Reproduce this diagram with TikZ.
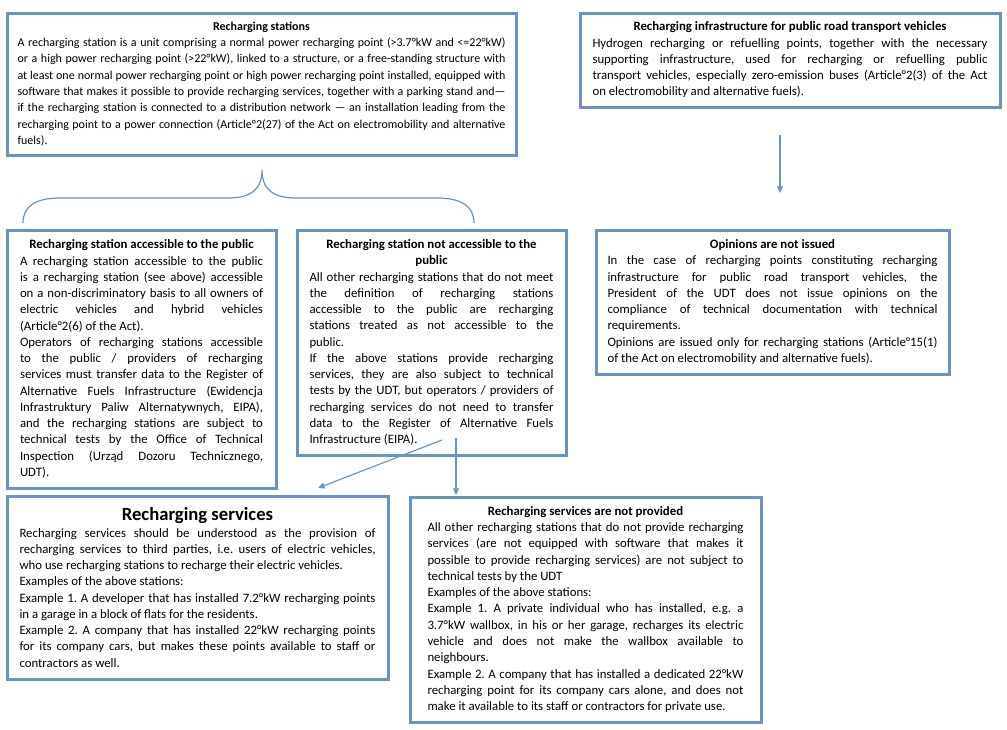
\documentclass[tikz,border=0pt]{standalone}
\usepackage{fontspec}
\setmainfont{Carlito}
\usepackage{tikz}
\usepackage{xcolor}
\usetikzlibrary{arrows.meta, positioning}

\definecolor{panelblue}{RGB}{104,147,194}
\definecolor{linkblue}{RGB}{102,152,204}

\tikzset{
    panel/.style={draw=panelblue, line width=2.25pt, anchor=north west, outer sep=0pt,
        align=justify, font=\fontsize{9.6}{12.2}\selectfont\frenchspacing},
    link/.style={-{Triangle[length=5pt, width=4.5pt]}, linkblue, line width=0.9pt},
    bracepath/.style={panelblue, line width=0.9pt}
}
\newcommand{\paneltitle}[1]{{\centering\bfseries #1\par}}

\begin{document}
\begin{tikzpicture}[x=0.75pt, y=-0.75pt]
    \useasboundingbox (0,0) rectangle (1007,729);

    % Top row
    \node[panel, font=\fontsize{9}{12.2}\selectfont\frenchspacing,
        minimum width=381.75pt, minimum height=106.5pt, text width=366pt] (stations) at (7,13) {%
        \paneltitle{Recharging stations}
        A recharging station is a unit comprising a normal power recharging point (>3.7°kW and <=22°kW)\linebreak
        or a high power recharging point (>22°kW), linked to a structure, or a free-standing structure with\linebreak
        at least one normal power recharging point or high power recharging point installed, equipped with\linebreak
        software that makes it possible to provide recharging services, together with a parking stand and—\linebreak
        if the recharging station is connected to a distribution network — an installation leading from the\linebreak
        recharging point to a power connection (Article°2(27) of the Act on electromobility and alternative\linebreak
        fuels).};

    \node[panel, minimum width=315pt, minimum height=70.5pt, text width=296.25pt] (infra) at (580,13) {%
        \paneltitle{Recharging infrastructure for public road transport vehicles}
        Hydrogen recharging or refuelling points, together with the necessary\linebreak
        supporting infrastructure, used for recharging or refuelling public\linebreak
        transport vehicles, especially zero-emission buses (Article°2(3) of the Act\linebreak
        on electromobility and alternative fuels).};

    % Middle row
    \node[panel, minimum width=201.75pt, minimum height=193.5pt, text width=182.25pt] (public) at (7,230) {%
        \paneltitle{Recharging station accessible to the public}
        A recharging station accessible to the public\linebreak
        is a recharging station (see above) accessible\linebreak
        on a non-discriminatory basis to all owners of\linebreak
        electric vehicles and hybrid vehicles\linebreak
        (Article°2(6) of the Act).\par
        Operators of recharging stations accessible\linebreak
        to the public / providers of recharging\linebreak
        services must transfer data to the Register of\linebreak
        Alternative Fuels Infrastructure (Ewidencja\linebreak
        Infrastruktury Paliw Alternatywnych, EIPA),\linebreak
        and the recharging stations are subject to\linebreak
        technical tests by the Office of Technical\linebreak
        Inspection (Urząd Dozoru Technicznego,\linebreak
        UDT).};

    \node[panel, minimum width=201.75pt, minimum height=168.75pt, text width=183pt] (private) at (297,230) {%
        \paneltitle{Recharging station not accessible to the\linebreak public}
        All other recharging stations that do not meet\linebreak
        the definition of recharging stations\linebreak
        accessible to the public are recharging\linebreak
        stations treated as not accessible to the\linebreak
        public.\par
        If the above stations provide recharging\linebreak
        services, they are also subject to technical\linebreak
        tests by the UDT, but operators / providers of\linebreak
        recharging services do not need to transfer\linebreak
        data to the Register of Alternative Fuels\linebreak
        Infrastructure (EIPA).};

    \node[panel, minimum width=264.75pt, minimum height=108pt, text width=247.5pt] (opinions) at (596,230) {%
        \paneltitle{Opinions are not issued}
        In the case of recharging points constituting recharging\linebreak
        infrastructure for public road transport vehicles, the\linebreak
        President of the UDT does not issue opinions on the\linebreak
        compliance of technical documentation with technical\linebreak
        requirements.\par
        Opinions are issued only for recharging stations (Article°15(1)\linebreak
        of the Act on electromobility and alternative fuels).};

    % Bottom row
    \node[panel, minimum width=285.75pt, minimum height=137.25pt, text width=267pt] (services) at (7,496) {%
        \paneltitle{\fontsize{14}{16}\selectfont Recharging services}
        Recharging services should be understood as the provision of\linebreak
        recharging services to third parties, i.e. users of electric vehicles,\linebreak
        who use recharging stations to recharge their electric vehicles.\par
        Examples of the above stations:\par
        Example 1. A developer that has installed 7.2°kW recharging points\linebreak
        in a garage in a block of flats for the residents.\par
        Example 2. A company that has installed 22°kW recharging points\linebreak
        for its company cars, but makes these points available to staff or\linebreak
        contractors as well.};

    \node[panel, minimum width=263.25pt, minimum height=168.75pt, text width=237pt] (noservices) at (410,497) {%
        \paneltitle{Recharging services are not provided}
        All other recharging stations that do not provide recharging\linebreak
        services (are not equipped with software that makes it\linebreak
        possible to provide recharging services) are not subject to\linebreak
        technical tests by the UDT\par
        Examples of the above stations:\par
        Example 1. A private individual who has installed, e.g. a\linebreak
        3.7°kW wallbox, in his or her garage, recharges its electric\linebreak
        vehicle and does not make the wallbox available to\linebreak
        neighbours.\par
        Example 2. A company that has installed a dedicated 22°kW\linebreak
        recharging point for its company cars alone, and does not\linebreak
        make it available to its staff or contractors for private use.};

    % Brace splitting the stations
    \draw[bracepath] (23,223) .. controls (23,206) and (36,198) .. (60,198) -- (228,198)
        .. controls (250,198) and (262,190) .. (262,170)
        .. controls (262,190) and (274,198) .. (296,198) -- (437,198)
        .. controls (461,198) and (474,206) .. (474,223);

    % Arrows
    \coordinate (infrax) at (780,0);
    \draw[link, shorten <=21pt, shorten >=27.75pt] (infra.south -| infrax) -- (opinions.north -| infrax);

    \coordinate (splitleft) at (442,440);
    \coordinate (splitdown) at (456,438);
    \coordinate (servicesin) at (318,488);
    \draw[link] (splitleft) -- (servicesin);
    \draw[link, shorten >=1.5pt] (splitdown) -- (noservices.north -| splitdown);
\end{tikzpicture}
\end{document}
